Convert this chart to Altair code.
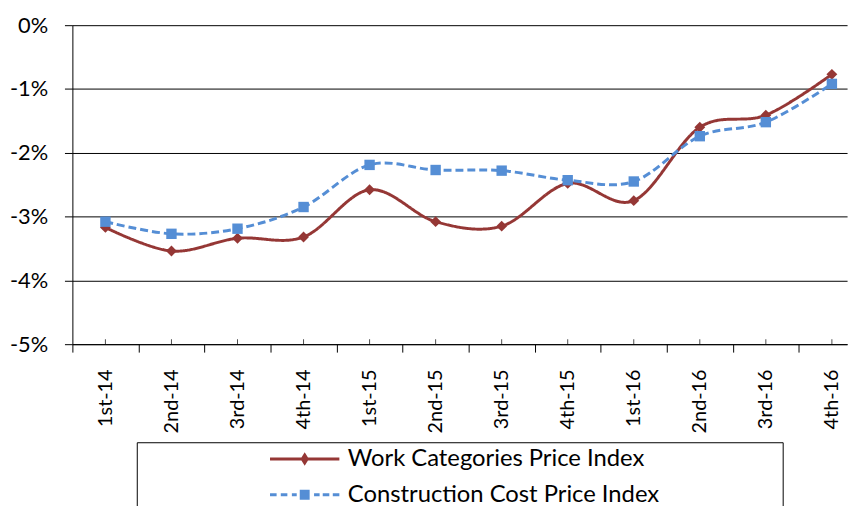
import json
import altair as alt
import pandas as pd

# ---- data ----
quarters = ["1st-14", "2nd-14", "3rd-14", "4th-14", "1st-15", "2nd-15",
            "3rd-15", "4th-15", "1st-16", "2nd-16", "3rd-16", "4th-16"]
work = [-3.17, -3.54, -3.34, -3.32, -2.58, -3.08, -3.15, -2.48, -2.75, -1.60, -1.41, -0.77]
construction = [-3.08, -3.27, -3.19, -2.85, -2.19, -2.27, -2.28, -2.43, -2.45, -1.74, -1.52, -0.92]
series_names = ["Work Categories Price Index", "Construction Cost Price Index"]
series_colors = ["#953735", "#558ED5"]
y_ticks = [0, -1, -2, -3, -4, -5]

rows = []
for i, q in enumerate(quarters):
    rows.append({"idx": i, "quarter": q, "series": series_names[0], "value": work[i]})
    rows.append({"idx": i, "quarter": q, "series": series_names[1], "value": construction[i]})
df = pd.DataFrame(rows)

W, H = 782, 322
X_MAX = 11.23
half = W / (X_MAX + 0.5) / 2.0
FONT = "Lato"

x_enc = alt.X(
    "idx:Q",
    scale=alt.Scale(domain=[-0.5, X_MAX], nice=False, zero=False),
    axis=alt.Axis(
        values=list(range(len(quarters))),
        labelExpr=json.dumps(quarters) + "[datum.value]",
        labelAngle=-90, tickOffset=-half, labelOffset=half,
        tickSize=8, labelPadding=17, grid=False, title=None,
        domainColor="black", tickColor="black", labelColor="black",
        labelFont=FONT, labelFontSize=20, domainWidth=1, tickWidth=1,
    ),
)
y_enc = alt.Y(
    "value:Q",
    scale=alt.Scale(domain=[-5, 0], nice=False, zero=False),
    axis=alt.Axis(
        values=y_ticks, labelExpr="datum.value + '%'",
        tickSize=8, labelPadding=17, title=None,
        grid=True, gridColor="black", gridOpacity=1, gridWidth=1,
        domainColor="black", tickColor="black", labelColor="black",
        labelFont=FONT, labelFontSize=22,
    ),
)

base = alt.Chart(df)

# legend symbol paths (line + marker), unit coords in [-1, 1]
path_red = ("M-1,0L1,0"
            "M-0.071,0L0,-0.114L0.071,0L0,0.114Z"
            "M-0.023,0L0,-0.043L0.023,0L0,0.043Z")
path_blue = ("M-1,0L-0.81,0M-0.69,0L-0.5,0M-0.37,0L-0.23,0"
             "M0.27,0L0.43,0M0.52,0L0.71,0M0.81,0L1,0"
             "M-0.1,-0.1L0.1,-0.1L0.1,0.1L-0.1,0.1Z"
             "M-0.043,-0.043L0.043,-0.043L0.043,0.043L-0.043,0.043Z")

legend = alt.Legend(
    title="\u00a0", titleOrient="right", titlePadding=118, titleFontSize=24,
    orient="none", legendX=65, legendY=421,
    strokeColor="black", padding=7,
    symbolOffset=126, symbolSize=4900, symbolStrokeWidth=3, symbolOpacity=1,
    clipHeight=20, rowPadding=12,
    labelFont=FONT, labelFontSize=24, labelColor="black", labelOffset=7, labelLimit=0,
)

legend_layer = base.mark_point(opacity=0).encode(
    x=x_enc, y=y_enc,
    color=alt.Color("series:N", scale=alt.Scale(domain=series_names, range=series_colors), legend=legend),
    shape=alt.Shape("series:N", scale=alt.Scale(domain=series_names, range=[path_red, path_blue]), legend=legend),
)

center_ticks = base.transform_filter(alt.datum.series == series_names[0]).mark_tick(
    orient="vertical", size=5, thickness=1, color="black", yOffset=-2.5
).encode(x=x_enc, y=alt.datum(-5))

layers = [center_ticks]
styles = [
    {"shape": "diamond", "size": 120, "dash": [1, 0]},
    {"shape": "square", "size": 110, "dash": [8, 4]},
]
for name, color, st in zip(series_names, series_colors, styles):
    sub = base.transform_filter(alt.datum.series == name)
    layers.append(sub.mark_line(color=color, strokeWidth=3, interpolate="cardinal",
                                strokeDash=st["dash"]).encode(x=x_enc, y=y_enc))
    layers.append(sub.mark_point(shape=st["shape"], size=st["size"], filled=True,
                                 color=color, opacity=1).encode(x=x_enc, y=y_enc))
layers.append(legend_layer)

chart = alt.layer(*layers).properties(
    width=W, height=H,
    autosize=alt.AutoSizeParams(type="none"),
    padding={"left": 65, "top": 15, "right": 8, "bottom": 161},
    background="white",
).configure_view(stroke=None)

chart.save("out.html", embed_options={"renderer": "svg", "actions": False})
